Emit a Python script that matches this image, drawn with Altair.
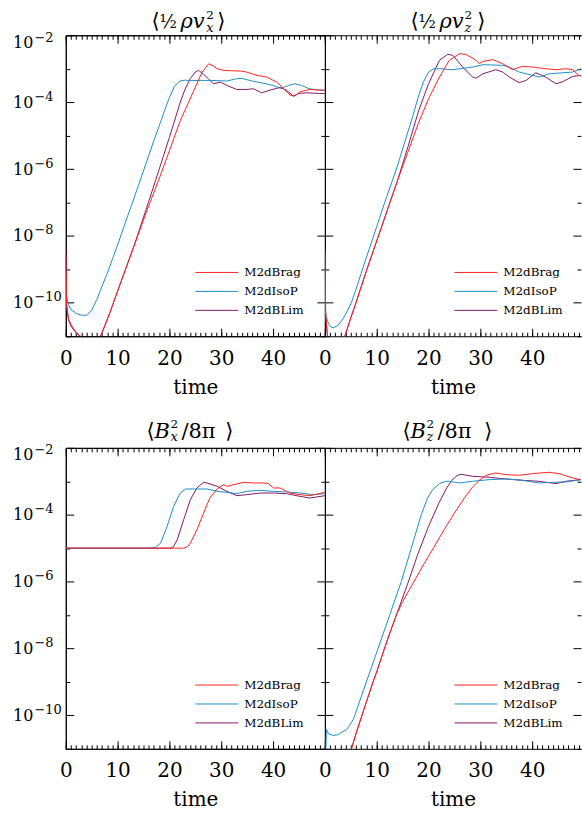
import altair as alt
import pandas as pd

SERIES = ["M2dBrag", "M2dIsoP", "M2dBLim"]
COLORS = ["#ff2424", "#1f8ec8", "#86196c"]
DRAW_ORDER = ["M2dBLim", "M2dIsoP", "M2dBrag"]
X_LABELS = [0, 10, 20, 30, 40]
Y_LABEL_EXPONENTS = [-2, -4, -6, -8, -10]
Y_MINOR_EXPONENTS = [-3, -5, -7, -9, -11]

# (time, log10 of value)
VX_BRAG = [(0, -8.4), (0.15, -10.0), (0.5, -10.45), (1, -10.65), (2, -10.88), (3, -11.02), (4, -11.2),
           (5, -11.25), (6, -11.15), (6.7, -11.0), (7.5, -10.7), (8.5, -10.3), (10, -9.65), (12, -8.8),
           (14, -7.95), (16, -7.1), (18, -6.3), (20, -5.45), (22.1, -4.55), (23.7, -4.0), (25, -3.55),
           (26.3, -3.1), (27.6, -2.85), (28.5, -2.92), (29.2, -3.0), (30.5, -3.05), (32, -3.06),
           (33.7, -3.07), (34.9, -3.1), (36.9, -3.2), (38.8, -3.25), (40.7, -3.4), (42, -3.59),
           (43.3, -3.79), (44.2, -3.82), (45.2, -3.69), (47.1, -3.62), (49, -3.64), (50, -3.64)]
VX_ISOP = [(0, -9.7), (0.5, -10.05), (1, -10.2), (2, -10.32), (3, -10.37), (4, -10.37), (5, -10.22),
           (6, -9.9), (7, -9.5), (8, -9.12), (9, -8.7), (10, -8.27), (12, -7.38), (14, -6.5), (16, -5.6),
           (17, -5.15), (18, -4.72), (19, -4.28), (20, -3.86), (21, -3.52), (22, -3.37), (23, -3.34),
           (24, -3.36), (26, -3.35), (28, -3.35), (30, -3.36), (31, -3.37), (33, -3.3), (34, -3.29),
           (36, -3.37), (38, -3.43), (40, -3.5), (41.5, -3.59), (43, -3.5), (44.2, -3.45), (45.5, -3.5),
           (47, -3.6), (49, -3.64), (50, -3.65)]
VX_BLIM = [(0, -8.6), (0.15, -10.1), (0.5, -10.5), (1, -10.7), (2, -10.9), (3, -11.05), (4, -11.2),
           (5, -11.25), (6, -11.15), (6.7, -11.0), (7.5, -10.7), (8.5, -10.3), (10, -9.65), (12, -8.8),
           (13.5, -8.15), (16, -6.97), (18, -6.02), (20, -5.05), (22.1, -4.0), (23, -3.62), (24, -3.3),
           (25, -3.1), (25.6, -3.05), (26.5, -3.15), (27.5, -3.3), (28.5, -3.45), (29.8, -3.4),
           (31.1, -3.5), (33, -3.62), (34.9, -3.62), (36.2, -3.6), (37.8, -3.72), (39.4, -3.64),
           (41.35, -3.56), (42.6, -3.64), (43.9, -3.82), (44.9, -3.74), (46.5, -3.72), (49, -3.74),
           (50, -3.74)]

VZ_BRAG = [(0, -8.4), (0.15, -10.3), (0.5, -11.0), (1, -11.3), (2, -11.5), (3, -11.3), (3.85, -11.0),
           (5, -10.45), (6, -10.0), (8, -9.05), (10, -8.15), (12, -7.25), (14, -6.35), (16, -5.5),
           (18, -4.65), (20, -3.9), (22.1, -3.25), (24, -2.75), (26, -2.55), (27.2, -2.57), (29.2, -2.75),
           (29.8, -2.85), (30.5, -2.78), (32.4, -2.73), (34.3, -2.85), (36.2, -3.03), (38.1, -2.93),
           (40.1, -2.95), (42.6, -3.0), (44.6, -3.03), (46.5, -3.0), (47.8, -3.03), (49, -3.2),
           (49.4, -3.22)]
VZ_ISOP = [(0, -10.2), (0.5, -10.55), (1, -10.7), (1.6, -10.75), (2.5, -10.68), (3.5, -10.48),
           (4.3, -10.25), (5.1, -10.0), (6, -9.6), (7, -9.12), (8, -8.65), (9.3, -8.05), (11.5, -7.02),
           (13.8, -6.0), (15.7, -5.05), (17, -4.4), (18, -3.85), (19, -3.4), (20, -3.1), (21, -3.0),
           (22.1, -3.0), (24.7, -3.03), (28.5, -2.95), (30.5, -2.88), (34.3, -2.9), (35.6, -2.95),
           (37.5, -3.1), (40.1, -3.2), (41.35, -3.25), (43.3, -3.15), (45.2, -3.13), (47.8, -3.1),
           (49.4, -3.0)]
VZ_BLIM = [(0, -8.6), (0.15, -10.4), (0.5, -11.0), (1, -11.3), (2, -11.5), (3, -11.3), (3.85, -11.0),
           (5, -10.45), (6, -10.0), (8, -9.05), (10, -8.15), (12, -7.25), (14, -6.35), (16, -5.35),
           (18, -4.3), (20, -3.45), (22.1, -2.75), (23.7, -2.57), (24.7, -2.6), (26.6, -2.95),
           (28.5, -3.25), (29.2, -3.28), (30.5, -3.15), (33, -3.03), (34.3, -3.1), (35.6, -3.25),
           (37.5, -3.42), (38.8, -3.35), (40.7, -3.12), (42.6, -3.25), (44.6, -3.45), (45.9, -3.39),
           (47.8, -3.23), (49.4, -3.2)]

BX_BRAG = [(0, -5.0), (22.75, -5.0), (23.5, -4.95), (24.04, -4.85), (25.3, -4.45), (26.6, -3.95),
           (27.8, -3.5), (29.2, -3.23), (30.45, -3.1), (31.1, -3.15), (32.4, -3.1), (34.3, -3.03),
           (36.2, -3.05), (38.1, -3.05), (39.1, -3.07), (40.1, -3.2), (41.35, -3.2), (43.27, -3.35),
           (45.2, -3.4), (47.1, -3.43), (50, -3.33)]
BX_ISOP = [(0, -5.0), (16.3, -5.0), (17.3, -4.97), (18.3, -4.85), (19.55, -4.35), (20.8, -3.75),
           (22.1, -3.35), (23.1, -3.23), (27.25, -3.23), (29.2, -3.3), (31.1, -3.33), (33, -3.37),
           (34.9, -3.3), (37.5, -3.27), (40.1, -3.3), (42.6, -3.32), (45.2, -3.35), (47.8, -3.4),
           (50, -3.37)]
BX_BLIM = [(0, -5.0), (20.2, -5.0), (20.8, -4.95), (21.5, -4.75), (22.75, -4.15), (24.04, -3.55),
           (25.3, -3.2), (26.6, -3.03), (27.25, -3.05), (29.2, -3.15), (31.1, -3.3), (33, -3.43),
           (34.9, -3.4), (37.5, -3.35), (40.1, -3.35), (42.6, -3.37), (45.2, -3.45), (47.1, -3.5),
           (50, -3.43)]

BZ_BRAG = [(0, -12.0), (4, -11.6), (5.13, -11.0), (6, -10.55), (7.05, -10.05), (8, -9.6), (9.3, -9.0),
           (10, -8.7), (11.5, -8.0), (12.5, -7.55), (13.8, -7.0), (15, -6.6), (17, -6.05), (19, -5.5),
           (21, -4.98), (23, -4.45), (25, -3.95), (27, -3.48), (28.5, -3.17), (29.8, -2.97),
           (31, -2.83), (32.9, -2.75), (34.9, -2.8), (37.5, -2.82), (40.1, -2.77), (43.3, -2.73),
           (45.2, -2.77), (47.8, -2.9), (49.4, -2.95)]
BZ_ISOP = [(0, -11.5), (0.2, -11.0), (0.3, -10.42), (0.7, -10.55), (1.6, -10.6), (2.5, -10.58),
           (3.3, -10.5), (4.17, -10.43), (5.45, -10.13), (5.77, -10.0), (8.0, -9.0), (10.26, -8.0),
           (12.5, -7.0), (14.74, -6.0), (16.67, -5.0), (18.6, -4.0), (19.8, -3.5), (20.8, -3.25),
           (22.1, -3.07), (23.4, -3.0), (24.04, -3.0), (25.96, -3.05), (28.5, -3.0), (31.7, -2.95),
           (34.9, -2.93), (38.1, -2.97), (41.35, -3.05), (43.9, -3.03), (46.5, -3.02), (49.4, -2.95)]
BZ_BLIM = [(0, -11.0), (0.3, -11.3), (4, -11.6), (5.13, -11.0), (6, -10.55), (7.05, -10.05), (8, -9.6),
           (9.3, -9.0), (10, -8.7), (11.5, -8.0), (12.5, -7.55), (13.8, -7.0), (16, -6.05), (18, -5.15),
           (20, -4.35), (22, -3.65), (23.5, -3.2), (24.5, -2.97), (25.5, -2.83), (26.3, -2.79),
           (28.5, -2.85), (31.7, -2.88), (34.9, -2.93), (38.1, -2.97), (41.35, -3.0),
           (44.6, -3.07), (46.5, -3.0), (49.4, -2.95)]

PANELS = {
    "vx": {"M2dBrag": VX_BRAG, "M2dIsoP": VX_ISOP, "M2dBLim": VX_BLIM},
    "vz": {"M2dBrag": VZ_BRAG, "M2dIsoP": VZ_ISOP, "M2dBLim": VZ_BLIM},
    "bx": {"M2dBrag": BX_BRAG, "M2dIsoP": BX_ISOP, "M2dBLim": BX_BLIM},
    "bz": {"M2dBrag": BZ_BRAG, "M2dIsoP": BZ_ISOP, "M2dBLim": BZ_BLIM},
}

# title pieces: text, x, baseline shift, font size, style
TITLES = {
    "vx": [("⟨", 86, 0, 21, "normal"), ("½", 94, 0, 18, "normal"), ("ρv", 115, 0, 21, "italic"),
           ("2", 141, -9, 12, "normal"), ("x", 141, 4, 13, "italic"), ("⟩", 152, 0, 21, "normal")],
    "vz": [("⟨", 86, 0, 21, "normal"), ("½", 94, 0, 18, "normal"), ("ρv", 115, 0, 21, "italic"),
           ("2", 140, -9, 12, "normal"), ("z", 140, 4, 13, "italic"), ("⟩", 153, 0, 21, "normal")],
    "bx": [("⟨", 81, 0, 21, "normal"), ("B", 89, 0, 21, "italic"), ("2", 105, -10, 12, "normal"),
           ("x", 105, 3, 13, "italic"), ("/8π", 116, 0, 21, "normal"), ("⟩", 160, 0, 21, "normal")],
    "bz": [("⟨", 78, 0, 21, "normal"), ("B", 86, 0, 21, "italic"), ("2", 102, -10, 12, "normal"),
           ("z", 102, 3, 13, "italic"), ("/8π", 113, 0, 21, "normal"), ("⟩", 160, 0, 21, "normal")],
}

FONT = "DejaVu Serif"
W_LEFT, W_RIGHT, H = 260, 257, 302
T_FULL = 50.0
LEGEND_Y = [238, 257, 276]
DUMMY = pd.DataFrame({"k": [0]})
TOP_LABEL_TEST = "datum.value > 0.005"


def tick_axis(orient, values, size):
    return alt.Axis(orient=orient, values=values, tickSize=size, offset=-size, domain=False,
                    grid=False, labels=False, title=None, tickColor="black", tickWidth=1)


def panel(key, is_left, title_base):
    width = W_LEFT if is_left else W_RIGHT
    xmax = T_FULL * width / W_LEFT
    rows = []
    for name in DRAW_ORDER:
        for t, e in PANELS[key][name]:
            rows.append({"t": t, "v": 10.0 ** e, "series": name})
    df = pd.DataFrame(rows)

    xs = alt.Scale(domain=[0, xmax], nice=False, zero=False)
    ys = alt.Scale(type="log", domain=[1e-11, 1e-2], nice=False)
    major_x = [v for v in range(0, 51, 10) if v <= xmax]
    minor_x = [v for v in range(0, 51) if v <= xmax]
    even_y = [10.0 ** e for e in Y_LABEL_EXPONENTS]
    odd_y = [10.0 ** e for e in Y_MINOR_EXPONENTS]

    def X(axis):
        return alt.X("t:Q", scale=xs, axis=axis)

    def Y(axis):
        return alt.Y("v:Q", scale=ys, axis=axis)

    x_main = alt.Axis(orient="bottom", values=X_LABELS, ticks=False, tickSize=0, domain=True,
                      domainColor="black", grid=False, labelFont=FONT, labelFontSize=20,
                      labelColor="black", labelBaseline="alphabetic", labelPadding=28,
                      labelFlush=False, labelOverlap=False, title="time", titleFont=FONT,
                      titleFontSize=20, titleFontWeight="normal", titleColor="black",
                      titleBaseline="alphabetic", titleY=57)
    y_main = alt.Axis(orient="left", values=even_y, ticks=False, tickSize=0, domain=True,
                      domainColor="black", grid=False, labels=is_left, labelExpr="'10'",
                      labelFont=FONT, labelFontSize=16, labelColor="black", labelAlign="right",
                      labelBaseline="middle", labelPadding=33, labelFlush=False,
                      labelOffset={"condition": {"test": TOP_LABEL_TEST, "value": 7}, "value": 0},
                      labelOverlap=False, title=None)

    lines = alt.Chart(df).mark_line(clip=True, strokeWidth=1).encode(
        x=X(x_main), y=Y(y_main),
        color=alt.Color("series:N", scale=alt.Scale(domain=SERIES, range=COLORS), legend=None),
    )
    ghost = alt.Chart(df).mark_point(opacity=0, size=1)
    layers = [
        lines,
        ghost.encode(x=X(tick_axis("bottom", major_x, 8)), y=Y(tick_axis("left", even_y, 8))),
        ghost.encode(x=X(tick_axis("bottom", minor_x, 4)), y=Y(tick_axis("left", odd_y, 4))),
        ghost.encode(x=X(tick_axis("top", major_x, 8)), y=Y(tick_axis("right", even_y, 8))),
        ghost.encode(x=X(tick_axis("top", minor_x, 4)), y=Y(tick_axis("right", odd_y, 4))),
    ]
    top_domain = alt.Axis(orient="top", domain=True, domainColor="black", ticks=False, tickSize=0,
                          labels=False, grid=False, title=None)
    if is_left:
        exp_axis = alt.Axis(orient="left", values=even_y, ticks=False, tickSize=0, domain=False,
                            grid=False,
                            labelExpr="'\u2212' + format(-round(log(datum.value) / LN10), 'd')",
                            labelFont=FONT, labelFontSize=13, labelColor="black", labelAlign="left",
                            labelBaseline="middle", labelPadding=32,
                            labelOffset={"condition": {"test": TOP_LABEL_TEST, "value": 2},
                                         "value": -6},
                            labelFlush=False, labelOverlap=False, title=None)
        layers.append(ghost.encode(x=X(top_domain), y=Y(exp_axis)))
    else:
        layers.append(ghost.encode(x=X(top_domain), y=Y(None)))

    for txt, x, dy, size, style in TITLES[key]:
        layers.append(
            alt.Chart(DUMMY).mark_text(align="left", baseline="alphabetic", font=FONT,
                                       fontSize=size, fontStyle=style, color="black")
            .encode(x=alt.value(x), y=alt.value(title_base + dy), text=alt.value(txt))
        )

    for name, col, ly in zip(SERIES, COLORS, LEGEND_Y):
        layers.append(
            alt.Chart(DUMMY).mark_rule(color=col, strokeWidth=1)
            .encode(x=alt.value(130), x2=alt.value(173), y=alt.value(ly))
        )
        layers.append(
            alt.Chart(DUMMY).mark_text(align="left", baseline="middle", font=FONT, fontSize=12,
                                       color="black")
            .encode(x=alt.value(179), y=alt.value(ly), text=alt.value(name))
        )

    ch = alt.layer(*layers).resolve_axis(x="independent", y="independent").properties(
        width=width, height=H)
    if is_left:
        ch = ch.properties(view=alt.ViewBackground(stroke="black", strokeWidth=1))
    return ch


chart = alt.concat(
    panel("vx", True, -7),
    panel("vz", False, -7),
    panel("bx", True, -10),
    panel("bz", False, -10),
    columns=2,
    spacing={"row": 112, "column": 0},
    bounds="flush",
).properties(
    padding={"left": 12, "top": 7, "right": 0, "bottom": 0}
).configure_view(stroke=None)

chart.save("out.html", embed_options={"renderer": "svg", "actions": False})
